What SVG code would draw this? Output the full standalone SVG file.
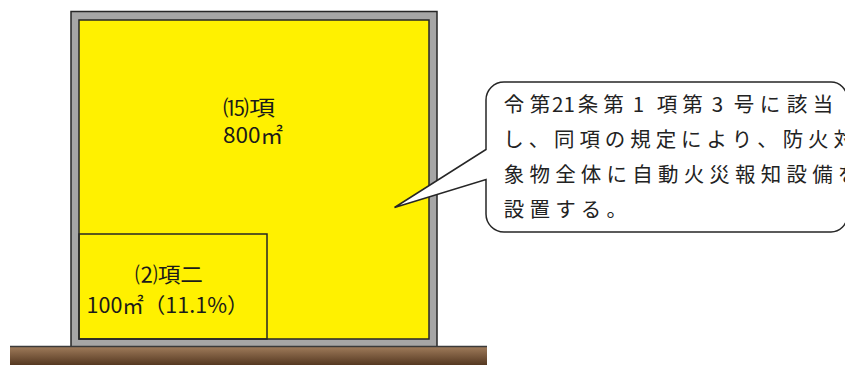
<svg xmlns="http://www.w3.org/2000/svg" width="845" height="365" viewBox="0 0 845 365">
  <defs>
    <linearGradient id="groundGrad" x1="0" y1="0" x2="0" y2="1">
      <stop offset="0" stop-color="#a27e5d"/>
      <stop offset="1" stop-color="#553821"/>
    </linearGradient>
    <style>
      .line { stroke: #262626; stroke-width: 1.5; }
      .lbl { font-family: "Noto Sans CJK JP", "Noto Sans", sans-serif; font-size: 21px; fill: #1a1a1a; text-anchor: middle; }
      .note { font-family: "Noto Sans CJK JP", "Noto Sans", sans-serif; font-size: 20.5px; fill: #222222; text-anchor: middle; }
    </style>
  </defs>

  <g id="building">
    <rect id="wall" x="71" y="11.5" width="366" height="335.5" fill="#a6a6a6" class="line"/>
    <rect id="floor-15" x="79" y="20" width="350" height="319" fill="#fff100" class="line"/>
    <rect id="room-2" x="79" y="234" width="188" height="105" fill="none" class="line"/>
  </g>

  <g id="ground">
    <rect x="10" y="346" width="477" height="19" fill="url(#groundGrad)"/>
    <line x1="10" y1="346.5" x2="487" y2="346.5" stroke="#3a3a3a" stroke-width="1.5"/>
  </g>

  <g id="labels">
    <text class="lbl" x="249" y="115" textLength="52" lengthAdjust="spacingAndGlyphs">⒂項</text>
    <text class="lbl" x="253" y="143" textLength="60" lengthAdjust="spacingAndGlyphs">800㎡</text>
    <text class="lbl" x="169" y="282" textLength="68" lengthAdjust="spacingAndGlyphs">⑵項二</text>
    <text class="lbl" x="167.5" y="313" textLength="162" lengthAdjust="spacingAndGlyphs">100㎡（11.1%）</text>
  </g>

  <g id="connectors">
    <path id="callout" d="M 504 82 H 831 A 16 16 0 0 1 847 98 V 216 A 16 16 0 0 1 831 232 H 504 A 18 18 0 0 1 486 214 V 179.5 L 394.5 207.5 L 486 149.5 V 100 A 18 18 0 0 1 504 82 Z" fill="#ffffff" class="line" stroke-linejoin="miter"/>
  </g>

  <g id="callout-text">
    <text class="note" y="112"><tspan x="514">令</tspan><tspan x="540">第</tspan><tspan x="563.5">21</tspan><tspan x="588">条</tspan><tspan x="613.5">第</tspan><tspan x="638.5">1</tspan><tspan x="667">項</tspan><tspan x="692.5">第</tspan><tspan x="717.5">3</tspan><tspan x="744">号</tspan><tspan x="770">に</tspan><tspan x="797">該</tspan><tspan x="823">当</tspan></text>
    <text class="note" y="147" x="513.5 538.9 564.3 589.7 615.1 640.5 665.9 691.3 716.7 742.1 767.5 792.9 818.3 843.7">し、同項の規定により、防火対</text>
    <text class="note" y="182" x="514 539.7 565.4 591.1 616.8 642.5 668.2 693.9 719.6 745.3 771 796.7 822.4 848.1">象物全体に自動火災報知設備を</text>
    <text class="note" y="217" x="514 539.7 565.4 591.1 616.8">設置する。</text>
  </g>
</svg>
